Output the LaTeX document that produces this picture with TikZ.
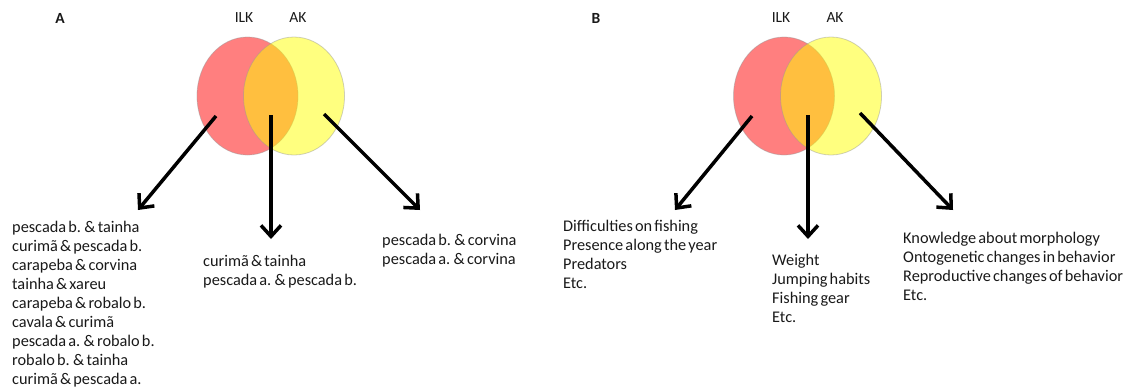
\documentclass[tikz,border=0pt]{standalone}
\usepackage{fontspec}
\setmainfont{Carlito}[WordSpace=0.6]
\usetikzlibrary{arrows.meta,shapes.geometric}
\definecolor{ilkred}{RGB}{255,0,0}
\definecolor{akyellow}{RGB}{255,255,0}
\definecolor{rimgray}{RGB}{150,150,150}
\definecolor{listtext}{RGB}{25,25,25}
\tikzset{
  ilkset/.style={ellipse, draw=rimgray, draw opacity=0.45, fill=ilkred, fill opacity=0.5,
    minimum width=101pt, minimum height=118pt, inner sep=0pt, line width=0.8pt},
  akset/.style={ilkset, fill=akyellow},
  setlabel/.style={inner sep=0pt, text=listtext, font=\fontsize{15.5}{18}\selectfont},
  panel/.style={inner sep=0pt, text=listtext, font=\bfseries\fontsize{15.5}{18}\selectfont},
  items/.style={align=left, anchor=north west, inner sep=0pt, text=listtext,
    font=\fontsize{16.3}{19}\selectfont},
  pointer/.style={-{Straight Barb[length=11pt,width=20pt]}, line width=3.5pt, black}
}

\begin{document}
\begin{tikzpicture}[x=1pt, y=-1pt]
  \useasboundingbox (0,0) rectangle (1131,389);

  % panel A : species pairs
  \node[panel] (panA) at (60,18) {A};
  \node[setlabel] (ilkA) at (244,18) {ILK};
  \node[setlabel] (akA) at (298,18) {AK};
  \node[ilkset] (redA) at (247.5,96) {};
  \node[akset] (yelA) at (294,96) {};

  \node[items] (listAl) at (12,221) {pescada b. \& tainha\\curimã \& pescada b.\\carapeba \& corvina\\tainha \& xareu\\carapeba \& robalo b.\\cavala \& curimã\\pescada a. \& robalo b.\\robalo b. \& tainha\\curimã \& pescada a.};
  \node[items] (listAm) at (203,255) {curimã \& tainha\\pescada a. \& pescada b.};
  \node[items] (listAr) at (382,234) {pescada b. \& corvina\\pescada a. \& corvina};

  \coordinate (fromAl) at (216,116);
  \coordinate (fromAm) at (271,115);
  \coordinate (fromAr) at (324,114);
  \coordinate (toAl) at (138,210);
  \coordinate (toAm) at (271,239);
  \coordinate (toAr) at (420,210);
  \draw[pointer] (fromAl) -- (toAl);
  \draw[pointer] (fromAm) -- (toAm);
  \draw[pointer] (fromAr) -- (toAr);

  % panel B : kinds of knowledge
  \node[panel] (panB) at (596,18) {B};
  \node[setlabel] (ilkB) at (781,18) {ILK};
  \node[setlabel] (akB) at (835,18) {AK};
  \node[ilkset] (redB) at (784,96) {};
  \node[akset] (yelB) at (831,96) {};

  \node[items] (listBl) at (563,220) {Difficulties on fishing\\Presence along the year\\Predators\\Etc.};
  \node[items] (listBm) at (772,254) {Weight\\Jumping habits\\Fishing gear\\Etc.};
  \node[items] (listBr) at (903,232) {Knowledge about morphology\\Ontogenetic changes in behavior\\Reproductive changes of behavior\\Etc.};

  \coordinate (fromBl) at (752,116);
  \coordinate (fromBm) at (808,115);
  \coordinate (fromBr) at (860,113);
  \coordinate (toBl) at (675,210);
  \coordinate (toBm) at (808,239);
  \coordinate (toBr) at (953,210);
  \draw[pointer] (fromBl) -- (toBl);
  \draw[pointer] (fromBm) -- (toBm);
  \draw[pointer] (fromBr) -- (toBr);
\end{tikzpicture}
\end{document}
